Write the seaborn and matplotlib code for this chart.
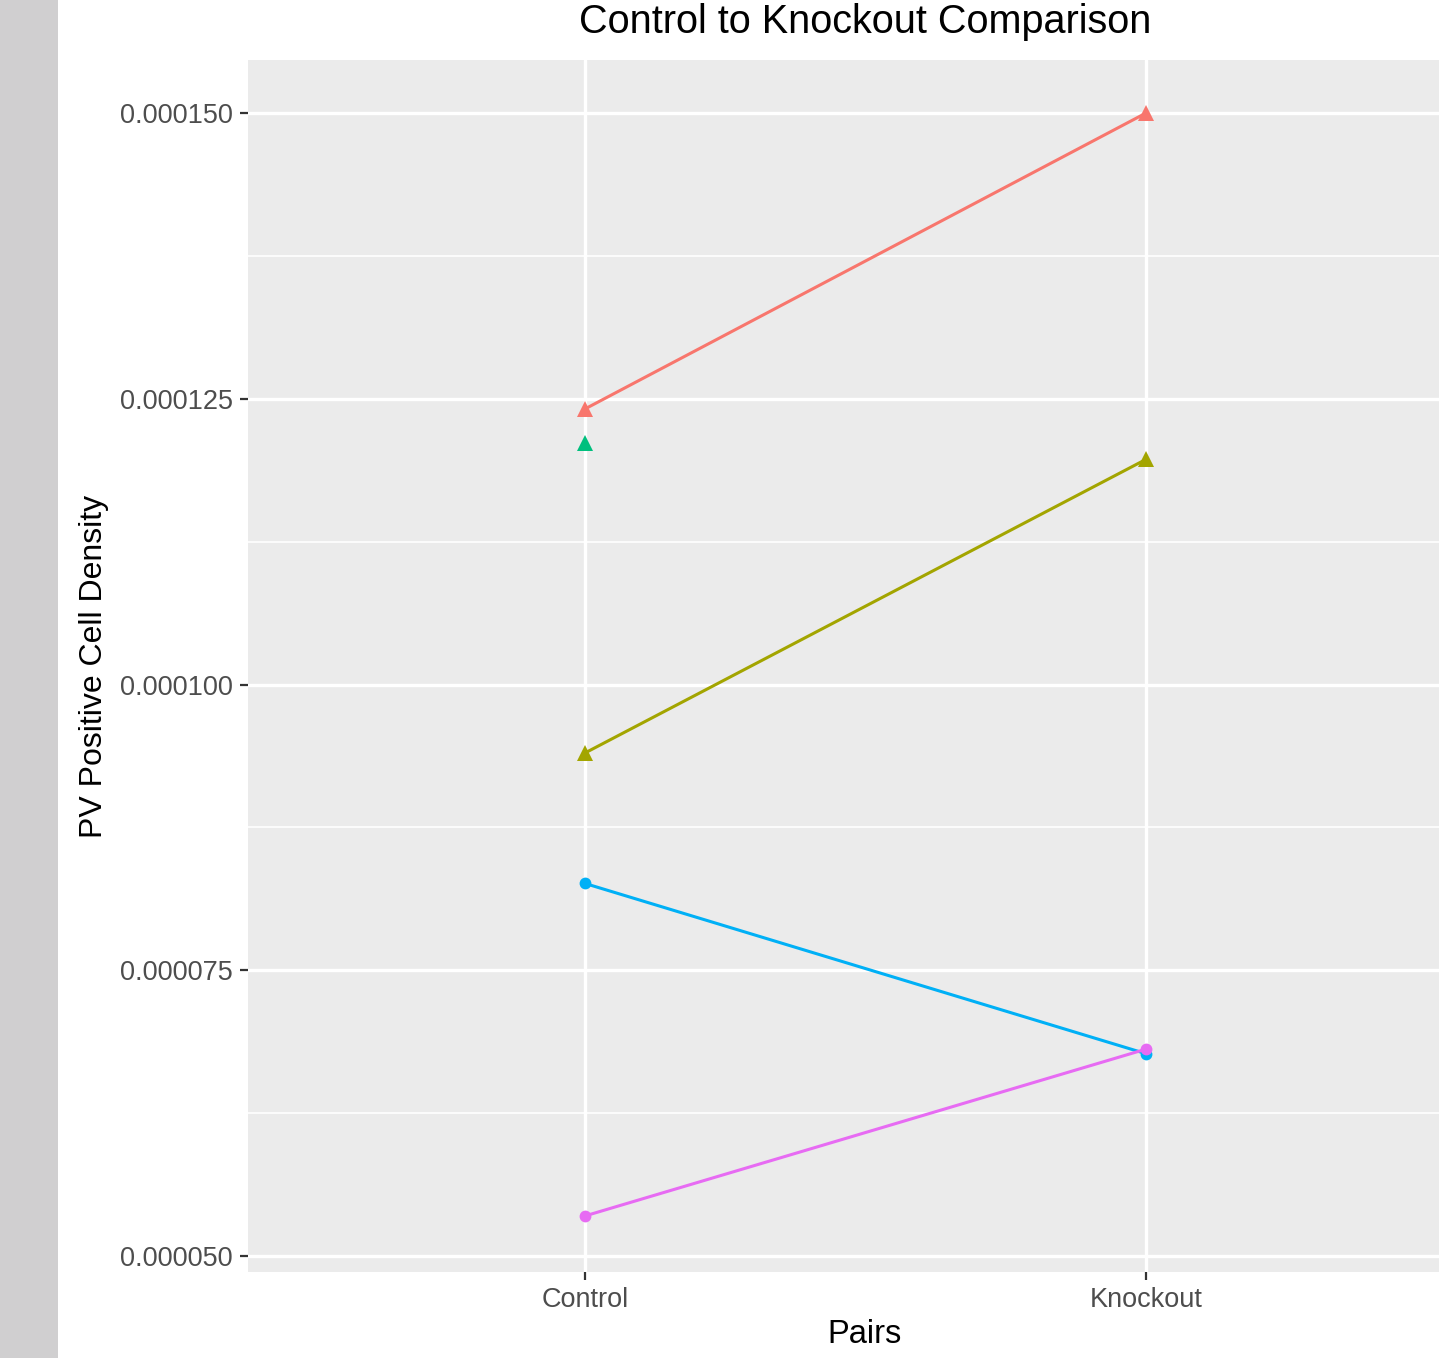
import matplotlib
matplotlib.use("Agg")
import matplotlib.pyplot as plt
from matplotlib.patches import Rectangle
from matplotlib.ticker import FixedLocator, FuncFormatter
import pandas as pd
import seaborn as sns

# PV positive cell density per animal pair, control vs knockout
pairs = ["P1", "P2", "P3", "P4", "P5"]
control = [0.0001241, 0.0000940, 0.0001211, 0.0000826, 0.0000535]
knockout = [0.0001500, 0.0001197, None, 0.0000677, 0.0000681]
pair_colors = ["#F8766D", "#A3A500", "#00BF7D", "#00B0F6", "#E76BF3"]
pair_markers = ["^", "^", "^", "o", "o"]
conditions = ["Control", "Knockout"]
y_ticks = [0.000050, 0.000075, 0.000100, 0.000125, 0.000150]

rows = []
for p, c, k in zip(pairs, control, knockout):
    rows.append({"Pair": p, "Pairs": conditions[0], "Density": c})
    if k is not None:
        rows.append({"Pair": p, "Pairs": conditions[1], "Density": k})
df = pd.DataFrame(rows)

sns.set_theme(style="darkgrid")
plt.rcParams["font.family"] = ["Liberation Sans", "DejaVu Sans"]

W, H = 1439, 1358
fig = plt.figure(figsize=(W / 100, H / 100), dpi=100)
fig.patch.set_facecolor("white")
fig.add_artist(Rectangle((0, 0), 58 / W, 1, transform=fig.transFigure,
                         facecolor="#d0cfd0", edgecolor="none", zorder=0))

left, right, top, bottom = 248, 1439, 60, 1272
ax = fig.add_axes([left / W, (H - bottom) / H, (right - left) / W, (bottom - top) / H])
ax.set_facecolor("#EBEBEB")

sns.lineplot(data=df, x="Pairs", y="Density", hue="Pair", style="Pair",
             hue_order=pairs, style_order=pairs,
             palette=dict(zip(pairs, pair_colors)),
             markers=dict(zip(pairs, pair_markers)), dashes=False,
             linewidth=2.2, markeredgewidth=0, legend=False, ax=ax, zorder=3)

for ln in ax.lines:
    if ln.get_marker() == "^":
        ln.set_markersize(11)
    else:
        ln.set_markersize(8.5)

ax.set_xlim(-0.6, 1.522)
ax.set_ylim(0.00004860, 0.00015464)

ax.yaxis.set_major_locator(FixedLocator(y_ticks))
ax.yaxis.set_minor_locator(FixedLocator([0.0000625, 0.0000875, 0.0001125, 0.0001375]))
ax.yaxis.set_major_formatter(FuncFormatter(lambda v, _: f"{v:.6f}"))

ax.grid(which="major", color="white", linewidth=2.4)
ax.grid(which="minor", axis="y", color="white", linewidth=1.2)
ax.set_axisbelow(True)
for s in ax.spines.values():
    s.set_visible(False)

ax.tick_params(axis="both", which="major", length=6, width=1.6, color="#333333",
               labelsize=19.5, labelcolor="#4D4D4D", pad=5, direction="out")
ax.tick_params(axis="both", which="minor", length=0)
ax.tick_params(axis="x", bottom=True)
ax.tick_params(axis="y", left=True)

# full panel spans 1.1 units beyond the last category; centre labels on it
panel_center = (865 - left) / (right - left)
ax.set_xlabel("Pairs", fontsize=23.5, color="black")
ax.xaxis.set_label_coords(panel_center, -0.039)
ax.set_ylabel("PV Positive Cell Density", fontsize=23, color="black", labelpad=8)

fig.text(865 / W, 1 - 22 / H, "Control to Knockout Comparison",
         ha="center", va="center", fontsize=28.5, color="black")

fig.savefig("out.png", dpi=100)
